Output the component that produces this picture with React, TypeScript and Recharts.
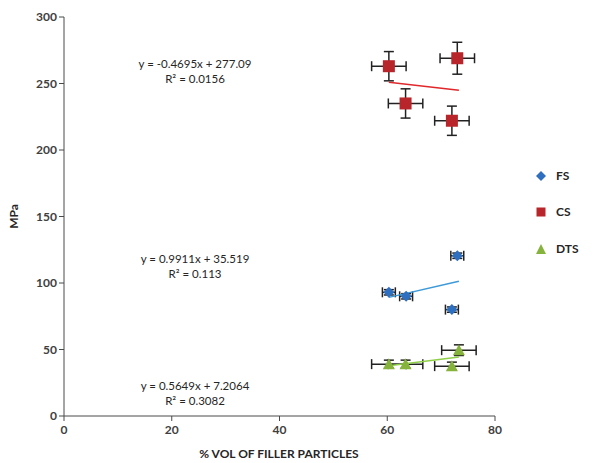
import {
    ErrorBar,
    Scatter,
    ScatterChart,
    XAxis,
    YAxis
} from "recharts";

// values (x = % vol of filler, y = MPa)
const fsX = [73.0, 60.3, 63.5, 72.0];
const fsY = [120.5, 93, 90, 80];
const fsXErr = [1.2, 1.2, 1.2, 1.2];
const fsYErr = [2, 2, 2, 2];

const csX = [60.3, 73.0, 63.4, 72.0];
const csY = [263, 269, 235, 222];
const csXErr = [3.2, 3.2, 3.2, 3.2];
const csYErr = [11, 12, 11, 11];

const dtsX = [60.3, 63.4, 73.3, 72.0];
const dtsY = [39, 39, 49.5, 37.5];
const dtsXErr = [3.2, 3.2, 3.2, 3.2];
const dtsYErr = [3, 3, 4, 3];

// linear trend line ends as drawn
const fsTrendX = [60.3, 73.3];
const fsTrendY = [89.2, 101.3];
const csTrendX = [60.3, 73.3];
const csTrendY = [250.9, 244.9];
const dtsTrendX = [60.3, 73.3];
const dtsTrendY = [37.8, 44.3];

const xTicks = [0, 20, 40, 60, 80];
const yTicks = [0, 50, 100, 150, 200, 250, 300];

const equations = [
    { eq: "y = -0.4695x + 277.09", r2: "R² = 0.0156", top: 56 },
    { eq: "y = 0.9911x + 35.519", r2: "R² = 0.113", top: 251 },
    { eq: "y = 0.5649x + 7.2064", r2: "R² = 0.3082", top: 378 }
];

const FS_COLOR = "#2f6fc0";
const CS_COLOR = "#b8262b";
const DTS_COLOR = "#86b33c";

const toPoints = (xs: number[], ys: number[], exs?: number[], eys?: number[]) =>
    xs.map((x, i) => ({
        x,
        y: ys[i],
        ex: exs ? exs[i] : 0,
        ey: eys ? eys[i] : 0
    }));

const fsData = toPoints(fsX, fsY, fsXErr, fsYErr);
const csData = toPoints(csX, csY, csXErr, csYErr);
const dtsData = toPoints(dtsX, dtsY, dtsXErr, dtsYErr);
const fsTrend = toPoints(fsTrendX, fsTrendY);
const csTrend = toPoints(csTrendX, csTrendY);
const dtsTrend = toPoints(dtsTrendX, dtsTrendY);

const Diamond = ({ cx, cy }: any) => (
    <path d={`M${cx},${cy - 5.5}L${cx + 5.5},${cy}L${cx},${cy + 5.5}L${cx - 5.5},${cy}Z`} fill={FS_COLOR} />
);
const Square = ({ cx, cy }: any) => (
    <rect x={cx - 6} y={cy - 6} width={12} height={12} fill={CS_COLOR} />
);
const Triangle = ({ cx, cy }: any) => (
    <path d={`M${cx},${cy - 6}L${cx + 6},${cy + 5}L${cx - 6},${cy + 5}Z`} fill={DTS_COLOR} />
);
const Nothing = () => <g />;

const font = "Lato, 'Open Sans', sans-serif";
const tickStyle = { fill: "#404040", fontSize: 12, fontWeight: 700, fontFamily: font };

const legendItems = [
    { name: "FS", top: 168, shape: <path d="M5,0L10,5L5,10L0,5Z" fill={FS_COLOR} /> },
    { name: "CS", top: 204, shape: <rect x={0.5} y={0.5} width={9} height={9} fill={CS_COLOR} /> },
    { name: "DTS", top: 241, shape: <path d="M5,0L10,10L0,10Z" fill={DTS_COLOR} /> }
];

const App = () => {
    return (
        <div style={{ position: "relative", width: 612, height: 463, background: "#fff", fontFamily: font }}>
            <style>{"body{margin:0}"}</style>
            <ScatterChart
                width={612}
                height={463}
                margin={{ top: 17, right: 117, left: 0, bottom: 0 }}
            >
                <XAxis
                    type="number"
                    dataKey="x"
                    domain={[0, 80]}
                    ticks={xTicks}
                    tick={tickStyle}
                    tickSize={5}
                    tickMargin={4}
                    stroke="#4a4a4a"
                    height={47}
                />
                <YAxis
                    type="number"
                    dataKey="y"
                    domain={[0, 300]}
                    ticks={yTicks}
                    tick={tickStyle}
                    tickSize={5}
                    stroke="#4a4a4a"
                    width={64}
                    label={{
                        value: "MPa",
                        angle: -90,
                        position: "insideLeft",
                        offset: 14,
                        style: { fill: "#262626", fontSize: 12, fontWeight: 700, fontFamily: font, textAnchor: "middle" }
                    }}
                />
                <Scatter data={fsTrend} shape={Nothing} line={{ stroke: "#3d9ad8", strokeWidth: 1.5 }} isAnimationActive={false} />
                <Scatter data={csTrend} shape={Nothing} line={{ stroke: "#e0282c", strokeWidth: 1.5 }} isAnimationActive={false} />
                <Scatter data={dtsTrend} shape={Nothing} line={{ stroke: "#8fd048", strokeWidth: 1.5 }} isAnimationActive={false} />
                <Scatter name="FS" data={fsData} shape={Diamond} isAnimationActive={false}>
                    <ErrorBar dataKey="ex" direction="x" width={5} stroke="#222" strokeWidth={1.5} />
                    <ErrorBar dataKey="ey" direction="y" width={5} stroke="#222" strokeWidth={1.5} />
                </Scatter>
                <Scatter name="CS" data={csData} shape={Square} isAnimationActive={false}>
                    <ErrorBar dataKey="ex" direction="x" width={5} stroke="#222" strokeWidth={1.5} />
                    <ErrorBar dataKey="ey" direction="y" width={5} stroke="#222" strokeWidth={1.5} />
                </Scatter>
                <Scatter name="DTS" data={dtsData} shape={Triangle} isAnimationActive={false}>
                    <ErrorBar dataKey="ex" direction="x" width={5} stroke="#222" strokeWidth={1.5} />
                    <ErrorBar dataKey="ey" direction="y" width={5} stroke="#222" strokeWidth={1.5} />
                </Scatter>
            </ScatterChart>

            <div
                style={{
                    position: "absolute",
                    left: 129,
                    width: 300,
                    top: 447,
                    textAlign: "center",
                    fontSize: 12,
                    fontWeight: 700,
                    lineHeight: "14px",
                    color: "#262626"
                }}
            >
                % VOL OF FILLER PARTICLES
            </div>

            {equations.map((e) => (
                <div
                    key={e.eq}
                    style={{
                        position: "absolute",
                        left: 120,
                        width: 150,
                        top: e.top,
                        textAlign: "center",
                        fontSize: 11.5,
                        lineHeight: "15px",
                        color: "#262626"
                    }}
                >
                    <div>{e.eq}</div>
                    <div>{e.r2}</div>
                </div>
            ))}

            {legendItems.map((l) => (
                <div
                    key={l.name}
                    style={{
                        position: "absolute",
                        left: 536,
                        top: l.top,
                        display: "flex",
                        alignItems: "center",
                        gap: 10,
                        fontSize: 12,
                        fontWeight: 700,
                        color: "#262626"
                    }}
                >
                    <svg width={10} height={10}>{l.shape}</svg>
                    <span>{l.name}</span>
                </div>
            ))}
        </div>
    );
};

export default App;
